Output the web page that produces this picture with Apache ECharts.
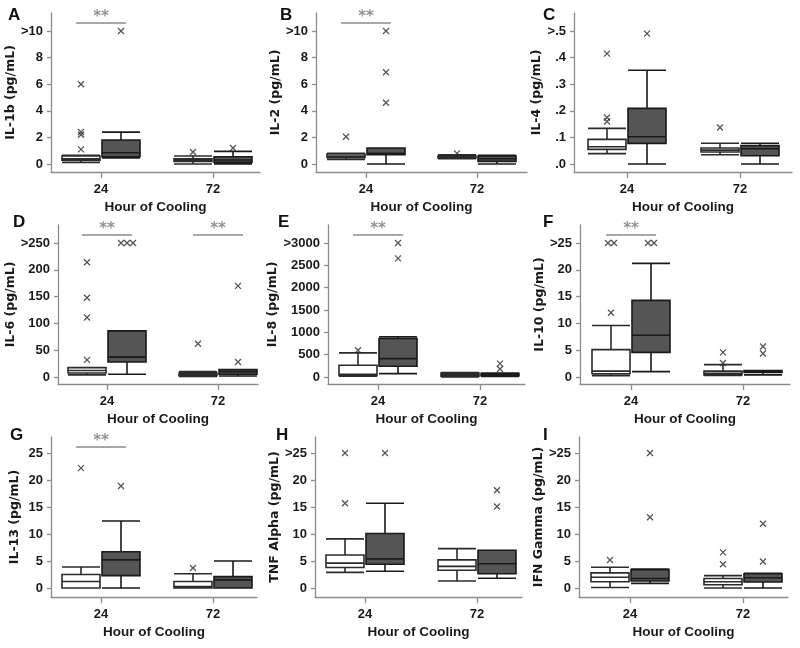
<!DOCTYPE html>
<html><head><meta charset="utf-8">
<script src="https://cdn.jsdelivr.net/npm/echarts@6/dist/echarts.min.js"></script>
<style>html,body{margin:0;padding:0;background:#fff}#c{width:800px;height:648px}</style>
</head><body><div id="c"></div>
<script>
// ---------- data ----------
const hours = ['24', '72'];
const panelLetters = ['A','B','C','D','E','F','G','H','I'];
const yNames = ['IL-1b (pg/mL)','IL-2 (pg/mL)','IL-4 (pg/mL)','IL-6 (pg/mL)','IL-8 (pg/mL)','IL-10 (pg/mL)','IL-13 (pg/mL)','TNF Alpha (pg/mL)','IFN Gamma (pg/mL)'];
const yTops  = [10, 10, 0.5, 250, 3000, 25, 25, 25, 25];
const ySteps = [2, 2, 0.1, 50, 500, 5, 5, 5, 5];
const yCapped = [true, true, true, true, true, true, false, true, true];
const sigGroups = [[0],[0],[],[0,1],[0],[0],[0],[],[]];

// box order: 24 light, 24 dark, 72 light, 72 dark ; [min, Q1, median, Q3, max]
const boxA = [[0.12,0.28,0.4,0.6,0.65],[0.45,0.55,0.85,1.8,2.4],[0.0,0.2,0.3,0.4,0.6],[0.0,0.12,0.3,0.55,0.95]];
const outA = [[1.1,2.2,2.4,6.0],[10],[0.9],[1.2]];
const boxB = [[0.35,0.5,0.6,0.75,0.8],[0,0.7,0.8,1.2,1.2],[0.4,0.45,0.55,0.6,0.7],[0,0.2,0.4,0.6,0.65]];
const outB = [[2.05],[4.6,6.9,10],[0.8],[]];
const boxC = [[0.039,0.055,0.065,0.0925,0.134],[0,0.0775,0.1025,0.209,0.3525],[0.035,0.045,0.052,0.06,0.078],[0,0.031,0.0575,0.069,0.078]];
const outC = [[0.16,0.175,0.415],[0.49],[0.137],[]];
const boxD = [[4,7.5,12,17.5,17.5],[5,28,37,86,86],[1,2.5,4.4,7.5,10],[2,5,10,14,14]];
const outD = [[32,111,148,214],[250,250,250],[62],[28,170]];
const boxE = [[20,37,60,262,540],[75,240,412,862,900],[0,20,55,90,100],[10,30,50,80,90]];
const outE = [[600],[2655,3000],[],[180,300]];
const boxF = [[0.25,0.6,1.1,5.1,9.6],[1.0,4.6,7.8,14.3,21.2],[0.3,0.4,0.7,1.1,2.3],[0.4,0.85,1.0,1.2,1.2]];
const outF = [[12,25,25],[25,25],[2.6,4.6],[4.4,5.7]];
const boxG = [[0,0,1.2,2.5,3.9],[0,2.3,5.2,6.7,12.4],[0,0,0.25,1.2,2.65],[0,0,1.5,2.1,5.0]];
const outG = [[22.2],[18.9],[3.7],[]];
const boxH = [[2.9,3.8,4.6,6.1,9.1],[3.1,4.4,5.4,10.1,15.7],[1.3,3.3,4.0,5.2,7.3],[1.8,2.65,4.5,7.0,7.0]];
const outH = [[15.7,25],[25],[],[15.1,18.1]];
const boxI = [[0.1,1.15,2.0,2.8,3.85],[0.85,1.3,1.75,3.4,3.5],[0,0.6,1.15,1.75,2.3],[0,1.1,1.9,2.65,2.7]];
const outI = [[5.2],[13.1,25],[4.4,6.6],[4.9,11.9]];

const boxData = [boxA, boxB, boxC, boxD, boxE, boxF, boxG, boxH, boxI];
const outData = [outA, outB, outC, outD, outE, outF, outG, outH, outI];

// ---------- layout (pixels) ----------
const rowsGeo = [[13,172,164,31],[225,384,377,243],[437,597,588,453]]; // gridTop, gridBottom, y of 0, y of top tick
const colGeo = [[51,260,101,213],[316,527,366,477],[574,792,627,740],[58,258,107,218],[328,525,378,480],[580,790,631,743],[51,257,101,213],[315,522,365,477],[579,788,630,743]];
const nameGaps = [31,30,24,35,40,27,30,29,28];
const letterPos = [[8,7],[280,7],[543,7],[13,214],[278,214],[543,214],[10,427],[276,427],[543,427]];

const axisColor = '#8c8c8c';
const textColor = '#1a1a1a';
const whiteStyle = {color:'#ffffff', borderColor:'#2b2b2b', borderWidth:1.6};
const darkStyle = {color:'#555555', borderColor:'#1a1a1a', borderWidth:1.6};
const xPath = 'path://M0,0L10,10M10,0L0,10';

const option = {animation:false, backgroundColor:'#fff', title:[], grid:[], xAxis:[], yAxis:[], series:[]};

for (let i = 0; i < 9; i++) {
  const [ax, xe, t24, t72] = colGeo[i];
  const [yt, yb, y0, yT] = rowsGeo[Math.floor(i/3)];
  const s = t72 - t24;
  const T = yTops[i], step = ySteps[i];
  const ppu = (y0 - yT) / T;
  option.title.push({text: panelLetters[i], left: letterPos[i][0], top: letterPos[i][1], padding: 0,
    textStyle:{fontFamily:'Liberation Sans', fontWeight:'bold', fontSize:17, color:'#111'}});
  option.grid.push({left: ax, top: yt, width: xe - ax, height: yb - yt, containLabel:false, outerBoundsMode:'none'});
  const ticks = [];
  for (let k = 0; k * step <= T + 1e-9; k++) ticks.push(+(k*step).toFixed(4));
  const fmtY = v => {
    let t = (T < 1) ? v.toFixed(1).replace(/^0\./, '.') : String(Math.round(v));
    if (yCapped[i] && Math.abs(v - T) < 1e-9) t = '>' + t;
    return t;
  };
  option.xAxis.push({type:'value', gridIndex:i, min: -(t24 - ax)/s, max: 1 + (xe - t72)/s,
    name:'Hour of Cooling', nameLocation:'middle', nameGap:28,
    nameTextStyle:{fontFamily:'Liberation Sans', fontWeight:'bold', fontSize:13.5, color:textColor},
    axisLine:{show:true, onZero:false, lineStyle:{color:axisColor, width:1.3}},
    axisTick:{show:true, customValues:[0,1], length:6, lineStyle:{color:axisColor, width:1.3}},
    axisLabel:{customValues:[0,1], formatter: v => hours[Math.round(v)], margin:11,
      fontFamily:'Liberation Sans', fontWeight:'bold', fontSize:13, color:textColor},
    splitLine:{show:false}});
  option.yAxis.push({type:'value', gridIndex:i, min: -(yb - y0)/ppu, max: (y0 - yt)/ppu,
    name: yNames[i], nameLocation:'middle', nameGap: nameGaps[i],
    nameTextStyle:{fontFamily:'DejaVu Sans', fontWeight:'bold', fontSize:12.5, color:textColor},
    axisLine:{show:true, onZero:false, lineStyle:{color:axisColor, width:1.3}},
    axisTick:{show:true, customValues:ticks, length:4, lineStyle:{color:axisColor, width:1.3}},
    axisLabel:{customValues:ticks, formatter: fmtY, margin:8,
      fontFamily:'Liberation Sans', fontWeight:'bold', fontSize:13, color:textColor},
    splitLine:{show:false}});

  const off = 20 / s;
  const gx = k => Math.floor(k/2) + (k % 2 ? off : -off);
  option.series.push({type:'boxplot', xAxisIndex:i, yAxisIndex:i, boxWidth:[38,38], silent:true,
    emphasis:{disabled:true},
    data: boxData[i].map((b, k) => ({value:[gx(k)].concat(b), itemStyle: k % 2 ? darkStyle : whiteStyle}))});

  const pts = [];
  outData[i].forEach((arr, k) => {
    const groups = {};
    arr.forEach(v => { (groups[v] = groups[v] || []).push(v); });
    Object.values(groups).forEach(g => g.forEach((v, j) => pts.push([gx(k) + (j - (g.length-1)/2) * 6 / s, v])));
  });
  option.series.push({type:'scatter', xAxisIndex:i, yAxisIndex:i, data: pts, symbol: xPath, symbolSize: 6,
    silent:true, itemStyle:{color:'transparent', borderColor:'#2b2b2b', borderWidth:1.3}});

  sigGroups[i].forEach(g => {
    const yv = (y0 - (yt + 10)) / ppu;
    option.series.push({type:'line', xAxisIndex:i, yAxisIndex:i, data:[[g - 25/s, yv],[g + 25/s, yv]],
      symbol:'none', silent:true, lineStyle:{color:axisColor, width:1.3}});
    option.series.push({type:'scatter', xAxisIndex:i, yAxisIndex:i, data:[[g, yv]], symbolSize:0, silent:true,
      label:{show:true, formatter:'**', position:'top', distance:-2,
        fontFamily:'DejaVu Sans', fontWeight:'bold', fontSize:15, color:'#777'}});
  });
}

const chart = echarts.init(document.getElementById('c'), null, {renderer:'canvas'});
chart.setOption(option);
</script>
</body></html>
